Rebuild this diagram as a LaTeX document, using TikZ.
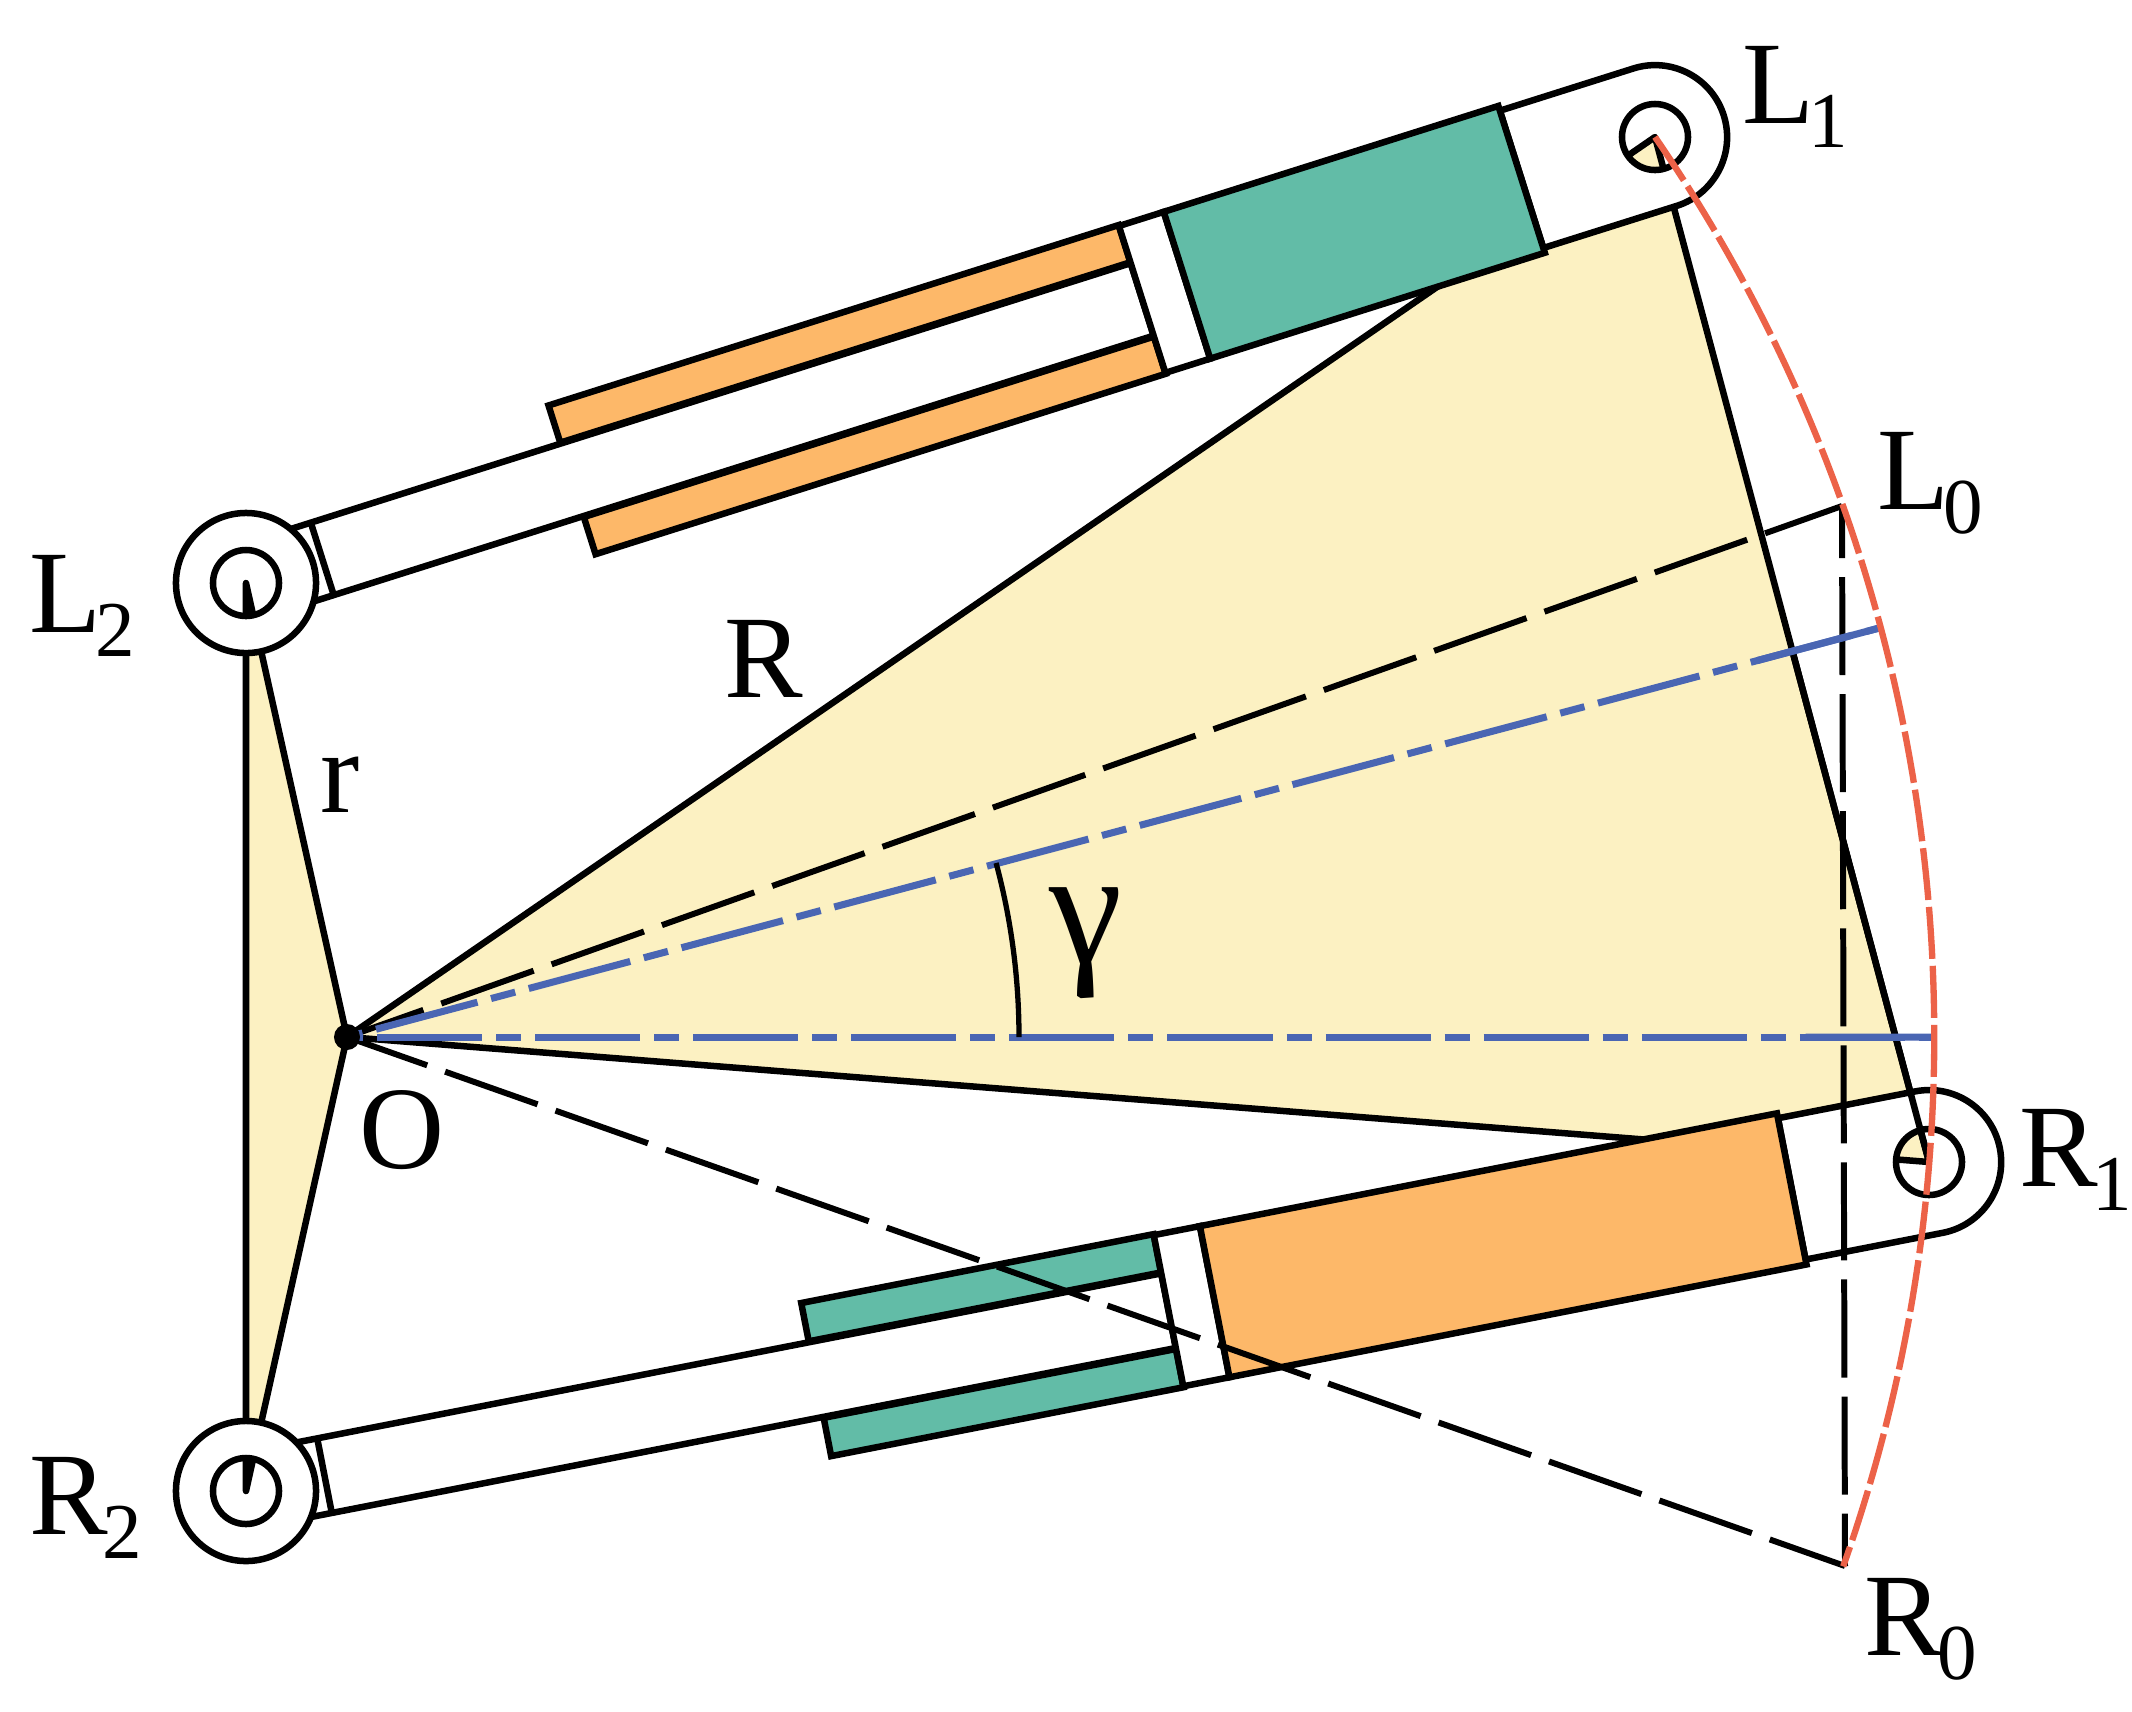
\documentclass[tikz,border=0pt]{standalone}
\usepackage{fontspec}
\setmainfont{Liberation Serif}
\usetikzlibrary{calc}

\definecolor{plate}{HTML}{FCF1C2}
\definecolor{tealpart}{HTML}{62BCA7}
\definecolor{orangepart}{HTML}{FDB869}
\definecolor{axisblue}{HTML}{4A66B3}
\definecolor{arcred}{HTML}{EC6248}

\newcommand{\subtxt}[1]{\hspace{-1.5pt}\raisebox{-7pt}{\fontsize{22.5}{24}\selectfont #1}}

\tikzset{
    rod/.style={draw=black,fill=white},
    bluebar/.style={draw=black,fill=tealpart},
    orangebar/.style={draw=black,fill=orangepart},
    platepart/.style={draw=black,fill=plate,line join=round},
    longdash/.style={line width=1.7pt,dash pattern=on .98cm off .19cm},
    axisline/.style={draw=axisblue,line width=2pt,dash pattern=on 1.05cm off .14cm on .25cm off .14cm,dash phase=1.28cm},
    lbl/.style={inner sep=0pt,anchor=base west,font=\fontsize{33.5}{36}\selectfont},
}

\begin{document}
\begin{tikzpicture}[x=.01cm,y=-.01cm,line width=1.85pt]
    \useasboundingbox (0,0) rectangle (2132,1711);

    \coordinate (O) at (347,1037);
    \coordinate (L1) at (1655,137);
    \coordinate (L2) at (246,583);
    \coordinate (R1) at (1929,1162);
    \coordinate (R2) at (246,1491);
    \coordinate (L0) at (1842,506);
    \coordinate (R0) at (1845,1566);
    \coordinate (B1) at (1883,627);
    \coordinate (B0) at (1936,1037);

    % plates
    \filldraw[platepart] (O) -- (L1) -- (R1) -- cycle;
    \filldraw[platepart] (O) -- (L2) -- (R2) -- cycle;

    % upper cylinder
    \begin{scope}[shift={(L2)},rotate=17.56]
        \filldraw[rod] (55,-38) rectangle (940,38);
        \draw (80,-38) -- (80,38);
        \filldraw[orangebar] (342,-78) rectangle (940,-39);
        \filldraw[orangebar] (342,39) rectangle (940,78);
        \filldraw[rod] (940,-77) rectangle (987,77);
        \filldraw[rod] (1338,-72) -- (1478,-72) arc[start angle=90,end angle=-90,radius=.72cm] -- (1338,72) -- cycle;
        \filldraw[bluebar] (987,-77) rectangle (1338,77);
    \end{scope}

    % lower cylinder
    \begin{scope}[shift={(R2)},rotate=11.06]
        \filldraw[rod] (55,-38) rectangle (940,38);
        \draw (80,-38) -- (80,38);
        \filldraw[bluebar] (581,-78) rectangle (940,-39);
        \filldraw[bluebar] (581,39) rectangle (940,78);
        \filldraw[rod] (940,-77) rectangle (987,77);
        \filldraw[rod] (1575,-72) -- (1715,-72) arc[start angle=90,end angle=-90,radius=.72cm] -- (1575,72) -- cycle;
        \filldraw[orangebar] (987,-77) rectangle (1575,77);
    \end{scope}

    % joints
    \foreach \j in {L2,R2}
        \filldraw[rod] (\j) circle[radius=.7cm];
    \foreach \j in {L1,L2,R1,R2}
        \fill[white] (\j) circle[radius=.33cm];
    \begin{scope}
        \clip (L1) circle[radius=.33cm] (L2) circle[radius=.33cm] (R1) circle[radius=.33cm] (R2) circle[radius=.33cm];
        \filldraw[platepart] (O) -- (L1) -- (R1) -- cycle;
        \filldraw[platepart] (O) -- (L2) -- (R2) -- cycle;
    \end{scope}
    \foreach \j in {L1,L2,R1,R2}
        \draw (\j) circle[radius=.33cm];
    \draw (R1) -- ($(R1)!.5!(L1)$);

    % dashed triangle
    \draw[longdash,dash phase=.17cm] (O) -- (L0);
    \draw[longdash,dash phase=.13cm] (O) -- (R0);
    \draw[longdash,dash phase=.46cm] (L0) -- (R0);

    % centre lines, angle and sweep
    \draw[axisline] (O) -- (B1);
    \draw[axisline] (O) -- (B0);
    \draw[axisblue,line width=2pt] ($(O)!.918!(B1)$) -- (B1);
    \draw[axisblue,line width=2pt] ($(O)!.918!(B0)$) -- (B0);
    \draw[line width=1.5pt] ($(O)+(672,0)$) arc[start angle=0,end angle=15,radius=6.72cm];
    \draw[arcred,line width=1.8pt,dash pattern=on .52cm off .07cm] (L1) arc[start angle=34.5,end angle=-19.5,radius=15.87cm];
    \fill (O) circle[radius=.13cm];

    \node[lbl] (lblL1) at (1739,123) {L\subtxt{1}};
    \node[lbl] (lblL0) at (1874,509) {L\subtxt{0}};
    \node[lbl] (lblL2) at (26,632) {L\subtxt{2}};
    \node[lbl] (lblR1) at (2016,1186) {R\subtxt{1}};
    \node[lbl] (lblR0) at (1861,1655) {R\subtxt{0}};
    \node[lbl] (lblR2) at (26,1534) {R\subtxt{2}};
    \node[lbl] (lblR) at (721,697) {R};
    \node[lbl] (lblr) at (317,812) {r};
    \node[lbl] (lblO) at (356,1168) {O};
    \node[lbl,font=\fontsize{47}{49}\selectfont] (lblgamma) at (1046,963) {γ};
\end{tikzpicture}
\end{document}
